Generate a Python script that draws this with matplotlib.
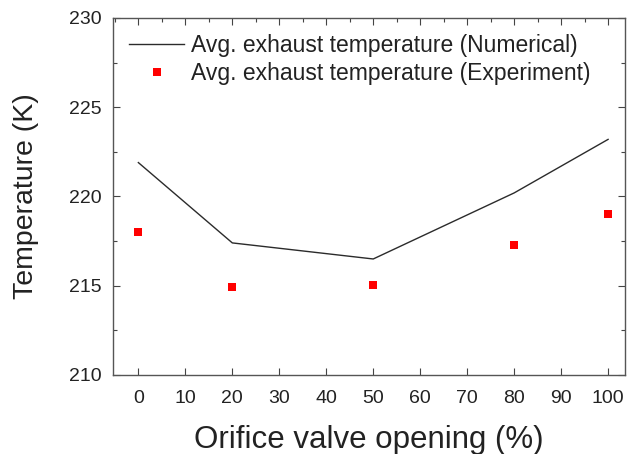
import matplotlib
matplotlib.use("Agg")
import matplotlib.pyplot as plt
from matplotlib.ticker import MultipleLocator

plt.rcParams['font.family'] = ['Liberation Sans', 'DejaVu Sans']

# abertura da válvula (%) e temperaturas médias de exaustão (K)
abertura = [0, 20, 50, 80, 100]
temp_numerico = [221.9, 217.4, 216.5, 220.2, 223.2]
temp_experimento = [218.0, 214.95, 215.05, 217.3, 219.0]

fig = plt.figure(figsize=(6.34, 4.54), dpi=100)
ax = fig.add_axes([113 / 634, 1 - 375 / 454, (625 - 113) / 634, (375 - 18) / 454])

ax.plot(abertura, temp_numerico, color='#2b2b2b', linewidth=1.0,
        label='Avg. exhaust temperature (Numerical)')
ax.plot(abertura, temp_experimento, linestyle='none', marker='s', markersize=5.5,
        color='#ff0000', markeredgewidth=0,
        label='Avg. exhaust temperature (Experiment)')

ax.set_xlim(-5.4, 103.6)
ax.set_ylim(210, 230)
ax.xaxis.set_major_locator(MultipleLocator(10))
ax.xaxis.set_minor_locator(MultipleLocator(5))
ax.yaxis.set_major_locator(MultipleLocator(5))
ax.yaxis.set_minor_locator(MultipleLocator(2.5))

ax.tick_params(which='major', direction='in', length=5, width=0.8, color='#444444',
               top=True, right=True, labelsize=14, labelcolor='#222222', pad=8)
ax.tick_params(axis='x', which='major', pad=11)
ax.tick_params(which='minor', direction='in', length=3, width=0.8, color='#444444',
               top=True, right=True, bottom=False)

for s in ax.spines.values():
    s.set_color('#555555')
    s.set_linewidth(1.0)

ax.set_xlabel('Orifice valve opening (%)', fontsize=22.5, color='#222222', labelpad=13)
ax.set_ylabel('Temperature (K)', fontsize=20.5, color='#222222', labelpad=22)

ax.legend(loc='upper left', frameon=False, fontsize=16.5, handlelength=2.4,
          handletextpad=0.3, labelspacing=0.22, bbox_to_anchor=(0.0, 1.0),
          borderaxespad=0.3, borderpad=0.4, labelcolor='#222222')

fig.savefig('out.png', dpi=100)
